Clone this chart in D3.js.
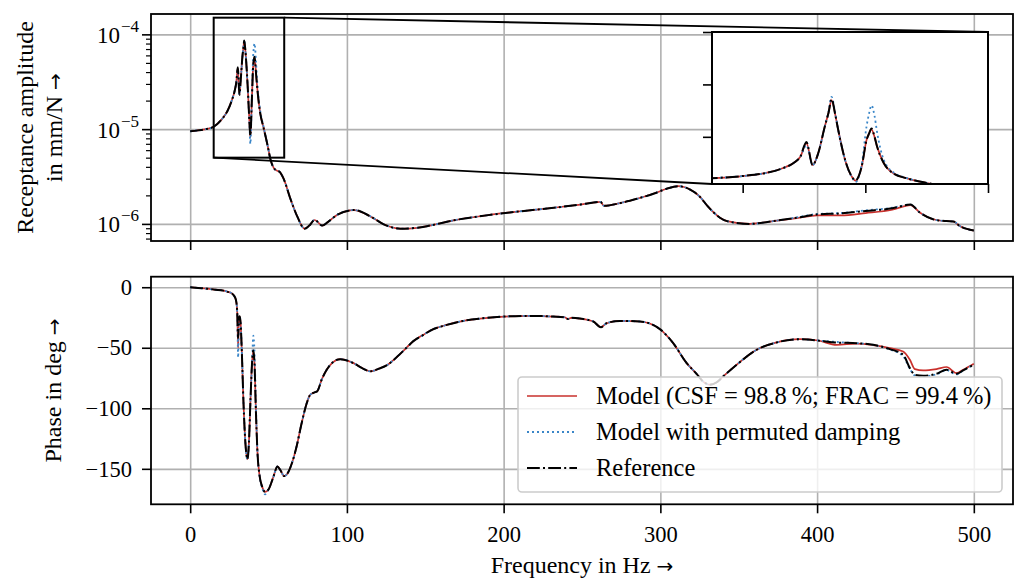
<!DOCTYPE html>
<html>
<head>
<meta charset="utf-8">
<script src="https://cdn.jsdelivr.net/npm/d3@7"></script>
<style>
  body { margin: 0; background: #fff; }
  svg text { font-family: "Liberation Serif", "DejaVu Serif", serif; fill: #000; }
  .tick text { font-size: 22.5px; }
  .lbl { font-size: 24px; }
  .leg { font-size: 24.5px; }
  .arr { font-family: "DejaVu Sans", sans-serif; font-size: 20px; }
</style>
</head>
<body>
<script>
// ---- data ----
var freqAmp = [0, 5, 10, 15, 20, 24, 26.5, 28.3, 29.4, 30.4,
  31.4, 32.3, 33.4, 34.0, 34.5, 35.1, 35.6, 36.7, 37.8, 38.4, 39.4, 40.2,
  40.6, 41.0, 41.5, 41.9, 43.0, 44.6, 46.8, 49.5, 51.2, 53.3, 55.3, 57,
  59.6, 64, 68.3, 73, 76, 79.4, 84.3, 88, 93.9, 104.5,
  115, 123.5, 134, 145, 153, 168, 189, 211, 232, 249,
  261.8, 264, 274.5, 285, 296, 304, 311.5, 319, 325, 330,
  334, 338, 342.5, 357, 372, 387, 400, 415, 431, 448,
  459.5, 465.5, 474, 482.5, 487, 491, 500];

var ampRef = [9.5e-6, 9.7e-6, 1.0e-5, 1.06e-5, 1.26e-5, 1.58e-5, 2.0e-5, 2.5e-5, 3.1e-5, 4.5e-5,
  2.3e-5, 3.4e-5, 6.0e-5, 7.3e-5, 8.6e-5, 7.1e-5, 5.6e-5, 2.8e-5, 1.2e-5, 8.5e-6, 2.15e-5, 4.7e-5,
  5.3e-5, 5.8e-5, 5.0e-5, 4.1e-5, 2.5e-5, 1.5e-5, 1.04e-5, 6.6e-6, 4.8e-6, 3.9e-6, 3.65e-6, 3.55e-6,
  3.0e-6, 1.83e-6, 1.2e-6, 8.9e-7, 9.6e-7, 1.1e-6, 9.6e-7, 1.05e-6, 1.25e-6, 1.4e-6,
  1.2e-6, 9.9e-7, 8.9e-7, 9.1e-7, 9.6e-7, 1.09e-6, 1.23e-6, 1.36e-6, 1.48e-6, 1.6e-6,
  1.71e-6, 1.55e-6, 1.66e-6, 1.84e-6, 2.09e-6, 2.35e-6, 2.5e-6, 2.3e-6, 1.95e-6, 1.55e-6,
  1.32e-6, 1.16e-6, 1.07e-6, 1.0e-6, 1.07e-6, 1.16e-6, 1.26e-6, 1.29e-6, 1.37e-6, 1.46e-6,
  1.6e-6, 1.32e-6, 1.12e-6, 1.07e-6, 1.06e-6, 9.5e-7, 8.5e-7];

var ampModel = [9.5e-6, 9.7e-6, 1.0e-5, 1.06e-5, 1.26e-5, 1.58e-5, 2.0e-5, 2.5e-5, 3.1e-5, 4.4e-5,
  2.3e-5, 3.4e-5, 6.0e-5, 7.3e-5, 8.5e-5, 7.1e-5, 5.6e-5, 2.8e-5, 1.2e-5, 8.2e-6, 2.15e-5, 4.7e-5,
  5.3e-5, 5.7e-5, 5.0e-5, 4.1e-5, 2.5e-5, 1.5e-5, 1.04e-5, 6.6e-6, 4.8e-6, 3.9e-6, 3.65e-6, 3.55e-6,
  3.0e-6, 1.83e-6, 1.2e-6, 8.9e-7, 9.6e-7, 1.1e-6, 9.6e-7, 1.05e-6, 1.25e-6, 1.4e-6,
  1.2e-6, 9.9e-7, 8.9e-7, 9.1e-7, 9.6e-7, 1.09e-6, 1.23e-6, 1.36e-6, 1.48e-6, 1.6e-6,
  1.71e-6, 1.55e-6, 1.66e-6, 1.84e-6, 2.09e-6, 2.35e-6, 2.5e-6, 2.3e-6, 1.95e-6, 1.55e-6,
  1.32e-6, 1.16e-6, 1.07e-6, 1.0e-6, 1.07e-6, 1.15e-6, 1.23e-6, 1.23e-6, 1.30e-6, 1.41e-6,
  1.58e-6, 1.32e-6, 1.12e-6, 1.07e-6, 1.06e-6, 9.5e-7, 8.5e-7];

var ampPerm = [9.5e-6, 9.7e-6, 1.0e-5, 1.06e-5, 1.26e-5, 1.58e-5, 2.0e-5, 2.5e-5, 3.1e-5, 4.2e-5,
  2.3e-5, 3.4e-5, 6.0e-5, 7.4e-5, 8.8e-5, 7.2e-5, 5.6e-5, 2.8e-5, 1.15e-5, 7.0e-6, 2.3e-5, 6.0e-5,
  7.2e-5, 8.0e-5, 7.0e-5, 5.5e-5, 2.8e-5, 1.6e-5, 1.06e-5, 6.6e-6, 4.8e-6, 3.9e-6, 3.65e-6, 3.55e-6,
  3.0e-6, 1.83e-6, 1.2e-6, 8.9e-7, 9.6e-7, 1.1e-6, 9.6e-7, 1.05e-6, 1.25e-6, 1.4e-6,
  1.2e-6, 9.9e-7, 8.9e-7, 9.1e-7, 9.6e-7, 1.09e-6, 1.23e-6, 1.36e-6, 1.48e-6, 1.6e-6,
  1.71e-6, 1.55e-6, 1.66e-6, 1.84e-6, 2.09e-6, 2.35e-6, 2.5e-6, 2.3e-6, 1.95e-6, 1.55e-6,
  1.32e-6, 1.16e-6, 1.07e-6, 1.0e-6, 1.07e-6, 1.17e-6, 1.27e-6, 1.30e-6, 1.39e-6, 1.48e-6,
  1.6e-6, 1.32e-6, 1.12e-6, 1.07e-6, 1.06e-6, 9.5e-7, 8.5e-7];

var freqPhase = [0, 5, 10.6, 16, 21.2, 24, 26.5, 28, 29.2, 30,
  30.6, 31.1, 31.6, 32.2, 33, 34, 35.2, 36.5, 37.5, 38.5,
  39.5, 40.3, 41, 42, 43, 44.2, 46, 47.8, 50, 53,
  55.7, 57.5, 60, 62, 65, 68, 71, 74.4, 76.5, 79,
  81, 84, 87.2, 91, 95.7, 104.2, 110, 114.8, 121, 126,
  132, 138, 142.4, 148.8, 153, 163.7, 174.3, 185, 200.3, 216.8,
  231.7, 239, 241, 243, 248.7, 257.2, 262.1, 265.7, 274.2, 287,
  299.7, 308.2, 316.8, 323.1, 327, 331.6, 336, 340.1, 348.7, 361.4,
  374.2, 389, 400.7, 412.4, 425.2, 435.8, 446.4, 454.9, 459.2, 462.4,
  467.7, 476.2, 482.6, 489, 493.2, 500];

var phaseRef = [0, -0.6, -1.2, -2, -2.8, -3.8, -5, -7, -10.5, -20,
  -42, -26, -24, -30, -55, -95, -128, -142, -128, -92,
  -62, -52, -62, -105, -138, -155, -165, -169, -167, -157,
  -148, -151, -156, -154, -145, -131, -113, -95.6, -89, -87,
  -86, -76, -68, -62, -59.4, -62.7, -67, -69.5, -67, -64,
  -57.5, -50, -44.5, -39.3, -36, -31.1, -27.8, -25.9, -24.2, -23.7,
  -24.2, -24.8, -26.2, -25.3, -25.9, -28.3, -33, -29.7, -27.8, -28.3,
  -34.6, -46.2, -62.7, -71.5, -77.5, -80.5, -78.5, -73.7, -64, -51.7,
  -45.6, -42.9, -44, -45.7, -46.2, -47.6, -51.1, -55.8, -66.8, -72.3,
  -73.1, -71.5, -68.2, -71.5, -68.7, -64];

var phaseModel = [0, -0.6, -1.2, -2, -2.8, -3.8, -5, -7, -10.5, -20,
  -50, -26, -24, -30, -55, -95, -128, -142, -128, -92,
  -62, -53, -62, -105, -138, -155, -165, -169, -167, -157,
  -148, -151, -156, -154, -145, -131, -113, -95.6, -89, -87,
  -86, -76, -68, -62, -59.4, -62.7, -67, -69.5, -67, -64,
  -57.5, -50, -44.5, -39.3, -36, -31.1, -27.8, -25.9, -24.2, -23.7,
  -24.2, -24.8, -26.2, -25.3, -25.9, -28.3, -33, -29.7, -27.8, -28.3,
  -34.6, -46.2, -62.7, -71.5, -77.5, -80.5, -78.5, -73.7, -64, -51.7,
  -45.6, -42.9, -44, -47.6, -46.5, -47.8, -50.3, -53.1, -59.9, -67.6,
  -68.7, -67.6, -65.9, -70.9, -68.2, -63.2];

var phasePerm = [0, -0.6, -1.2, -2, -2.8, -3.8, -5, -7, -10.5, -20,
  -58, -26, -24, -30, -55, -95, -128, -142, -128, -92,
  -62, -40, -52, -100, -138, -155, -166, -171, -167, -157,
  -148, -151, -156, -154, -145, -131, -113, -95.6, -89, -87,
  -86, -76, -68, -62, -59.4, -62.7, -67, -69.5, -67, -64,
  -57.5, -50, -44.5, -39.3, -36, -31.1, -27.8, -25.9, -24.2, -23.7,
  -24.2, -24.8, -26.2, -25.3, -25.9, -28.3, -33, -29.7, -27.8, -28.3,
  -34.6, -46.2, -62.7, -71.5, -77.5, -80.5, -78.5, -73.7, -64, -51.7,
  -45.6, -42.9, -44, -45.2, -46.2, -47.6, -51.5, -57, -67.5, -72.8,
  -73.5, -72, -68.5, -72, -68.7, -64];

var xTicks = [0, 100, 200, 300, 400, 500];
var ampTicks = [1e-6, 1e-5, 1e-4];
var ampTickExp = ["\u22126", "\u22125", "\u22124"];
var phaseTicks = [0, -50, -100, -150];
var insetXTicks = [20, 40, 60];
var insetYTicks = [5e-5, 1e-4, 1.5e-4];
var seriesNames = ["Model (CSF = 98.8\u2009%; FRAC = 99.4\u2009%)",
  "Model with permuted damping", "Reference"];

// ---- layout ----
var left = 151, right = 1013;
var topA = {y0: 14, y1: 241};
var botA = {y0: 276.7, y1: 504.3};
var inset = {x0: 712, x1: 988, y0: 32, y1: 184};

var styles = [
  {color: "#c9302c", width: 1.7, dash: null},
  {color: "#3a86c8", width: 1.8, dash: "2,3"},
  {color: "#000", width: 2, dash: "12.8,3.2,2,3.2"}
];

var x = d3.scaleLinear().domain([-25, 525]).range([left, right]);
var yAmp = d3.scaleLog().domain([6.6e-7, 1.64e-4]).range([topA.y1, topA.y0]);
var yPh = d3.scaleLinear().domain([-179.3, 8.7]).range([botA.y1, botA.y0]);
var xIn = d3.scaleLinear().domain([15, 60]).range([inset.x0, inset.x1]);
var yIn = d3.scaleLinear().domain([5e-6, 1.5e-4]).range([inset.y1, inset.y0]);

var svg = d3.select("body").append("svg")
    .attr("width", 1020)
    .attr("height", 581);

var defs = svg.append("defs");
function clip(id, x0, y0, x1, y1) {
  defs.append("clipPath").attr("id", id).append("rect")
    .attr("x", x0).attr("y", y0).attr("width", x1 - x0).attr("height", y1 - y0);
}
clip("cTop", left, topA.y0, right, topA.y1);
clip("cBot", left, botA.y0, right, botA.y1);
clip("cIn", inset.x0, inset.y0, inset.x1, inset.y1);

function styleAxis(g) {
  g.attr("font-family", null).attr("font-size", null);
  g.select(".domain").remove();
  g.selectAll(".tick line").attr("stroke", "#000").attr("stroke-width", 1.6);
}
function gridLines(g) {
  g.attr("font-family", null).attr("font-size", null);
  g.select(".domain").remove();
  g.selectAll(".tick line").attr("stroke", "#b0b0b0").attr("stroke-width", 1.6);
}

// grids
svg.append("g").attr("transform", "translate(0," + topA.y1 + ")")
  .call(d3.axisBottom(x).tickValues(xTicks).tickSize(-(topA.y1 - topA.y0)).tickFormat(""))
  .call(gridLines);
svg.append("g").attr("transform", "translate(" + left + ",0)")
  .call(d3.axisLeft(yAmp).tickValues(ampTicks).tickSize(-(right - left)).tickFormat(""))
  .call(gridLines);
svg.append("g").attr("transform", "translate(0," + botA.y1 + ")")
  .call(d3.axisBottom(x).tickValues(xTicks).tickSize(-(botA.y1 - botA.y0)).tickFormat(""))
  .call(gridLines);
svg.append("g").attr("transform", "translate(" + left + ",0)")
  .call(d3.axisLeft(yPh).tickValues(phaseTicks).tickSize(-(right - left)).tickFormat(""))
  .call(gridLines);

// curves
function drawSeries(g, xs, ys, fx, fy) {
  var line = d3.line()
    .x(function (d) { return fx(d[0]); })
    .y(function (d) { return fy(d[1]); })
    .curve(d3.curveMonotoneX);
  ys.forEach(function (vals, i) {
    var st = styles[i];
    g.append("path")
      .datum(d3.zip(xs, vals))
      .attr("d", line)
      .attr("fill", "none")
      .attr("stroke", st.color)
      .attr("stroke-width", st.width)
      .attr("stroke-dasharray", st.dash)
      .attr("stroke-linejoin", "round");
  });
}

var gTop = svg.append("g").attr("clip-path", "url(#cTop)");
drawSeries(gTop, freqAmp, [ampModel, ampPerm, ampRef], x, yAmp);
var gBot = svg.append("g").attr("clip-path", "url(#cBot)");
drawSeries(gBot, freqPhase, [phaseModel, phasePerm, phaseRef], x, yPh);

// axis ticks
svg.append("g").attr("transform", "translate(0," + topA.y1 + ")")
  .call(d3.axisBottom(x).tickValues(xTicks).tickSize(9).tickFormat(""))
  .call(styleAxis);
svg.append("g").attr("transform", "translate(0," + botA.y1 + ")")
  .call(d3.axisBottom(x).tickValues(xTicks).tickSize(9).tickPadding(13).tickFormat(d3.format("d")))
  .call(styleAxis);
svg.append("g").attr("transform", "translate(" + left + ",0)")
  .call(d3.axisLeft(yPh).tickValues(phaseTicks).tickSize(9).tickPadding(10)
    .tickFormat(function (d) { return d < 0 ? "\u2212" + (-d) : d; }))
  .call(styleAxis);

var minor = yAmp.ticks().filter(function (v) { return ampTicks.indexOf(v) < 0; });
svg.append("g").attr("transform", "translate(" + left + ",0)")
  .call(d3.axisLeft(yAmp).tickValues(minor).tickSize(5).tickFormat(""))
  .call(styleAxis)
  .selectAll(".tick line").attr("stroke-width", 1.2);
var gAmpAx = svg.append("g").attr("transform", "translate(" + left + ",0)")
  .call(d3.axisLeft(yAmp).tickValues(ampTicks).tickSize(9).tickFormat(""))
  .call(styleAxis);
gAmpAx.selectAll(".tick").each(function (d, i) {
  var t = d3.select(this).append("text")
    .attr("x", -12).attr("y", 8).attr("text-anchor", "end")
    .style("font-size", "23px");
  t.append("tspan").text("10");
  t.append("tspan").attr("dx", 1).attr("dy", -11).style("font-size", "17px").text(ampTickExp[i]);
});

// zoom box and connectors
svg.append("rect")
  .attr("x", x(15)).attr("y", yAmp(1.5e-4))
  .attr("width", x(60) - x(15)).attr("height", yAmp(5e-6) - yAmp(1.5e-4))
  .attr("fill", "none").attr("stroke", "#000").attr("stroke-width", 2);
svg.append("line")
  .attr("x1", x(15)).attr("y1", yAmp(5e-6)).attr("x2", inset.x0).attr("y2", inset.y1)
  .attr("stroke", "#000").attr("stroke-width", 1.8);
svg.append("line")
  .attr("x1", x(60)).attr("y1", yAmp(1.5e-4)).attr("x2", inset.x1).attr("y2", inset.y0)
  .attr("stroke", "#000").attr("stroke-width", 1.8);

// inset
svg.append("rect")
  .attr("x", inset.x0).attr("y", inset.y0)
  .attr("width", inset.x1 - inset.x0).attr("height", inset.y1 - inset.y0)
  .attr("fill", "#fff");
var gIn = svg.append("g").attr("clip-path", "url(#cIn)");
drawSeries(gIn, freqAmp, [ampModel, ampPerm, ampRef], xIn, yIn);
svg.append("g").attr("transform", "translate(0," + inset.y1 + ")")
  .call(d3.axisBottom(xIn).tickValues(insetXTicks).tickSize(9).tickFormat(""))
  .call(styleAxis);
svg.append("g").attr("transform", "translate(" + inset.x0 + ",0)")
  .call(d3.axisLeft(yIn).tickValues(insetYTicks).tickSize(9).tickFormat(""))
  .call(styleAxis);
svg.append("rect")
  .attr("x", inset.x0).attr("y", inset.y0)
  .attr("width", inset.x1 - inset.x0).attr("height", inset.y1 - inset.y0)
  .attr("fill", "none").attr("stroke", "#000").attr("stroke-width", 2);

// frames
[topA, botA].forEach(function (a) {
  svg.append("rect")
    .attr("x", left).attr("y", a.y0)
    .attr("width", right - left).attr("height", a.y1 - a.y0)
    .attr("fill", "none").attr("stroke", "#000").attr("stroke-width", 1.8);
});

// legend
var leg = svg.append("g");
leg.append("rect")
  .attr("x", 518).attr("y", 377).attr("width", 484).attr("height", 115)
  .attr("rx", 4).attr("fill", "#fff").attr("fill-opacity", 0.8)
  .attr("stroke", "#cccccc").attr("stroke-width", 1.6);
seriesNames.forEach(function (name, i) {
  var yy = 396 + i * 36;
  leg.append("line")
    .attr("x1", 527).attr("x2", 577).attr("y1", yy).attr("y2", yy)
    .attr("stroke", styles[i].color).attr("stroke-width", styles[i].width)
    .attr("stroke-dasharray", styles[i].dash);
  leg.append("text").attr("class", "leg")
    .attr("x", 596).attr("y", yy + 8).text(name);
});

// axis labels
function label(txt, tr, xx, yy) {
  var t = svg.append("text").attr("class", "lbl").attr("text-anchor", "middle");
  if (tr) t.attr("transform", tr); else t.attr("x", xx).attr("y", yy);
  t.append("tspan").text(txt + " ");
  t.append("tspan").attr("class", "arr").text("\u2192");
  return t;
}
var yMidTop = (topA.y0 + topA.y1) / 2, yMidBot = (botA.y0 + botA.y1) / 2;
svg.append("text").attr("class", "lbl")
  .attr("transform", "translate(33," + yMidTop + ") rotate(-90)")
  .attr("text-anchor", "middle").text("Receptance amplitude");
label("in mm/N", "translate(62," + yMidTop + ") rotate(-90)");
label("Phase in deg", "translate(61," + yMidBot + ") rotate(-90)");
label("Frequency in Hz", null, (left + right) / 2, 573);
</script>
</body>
</html>
